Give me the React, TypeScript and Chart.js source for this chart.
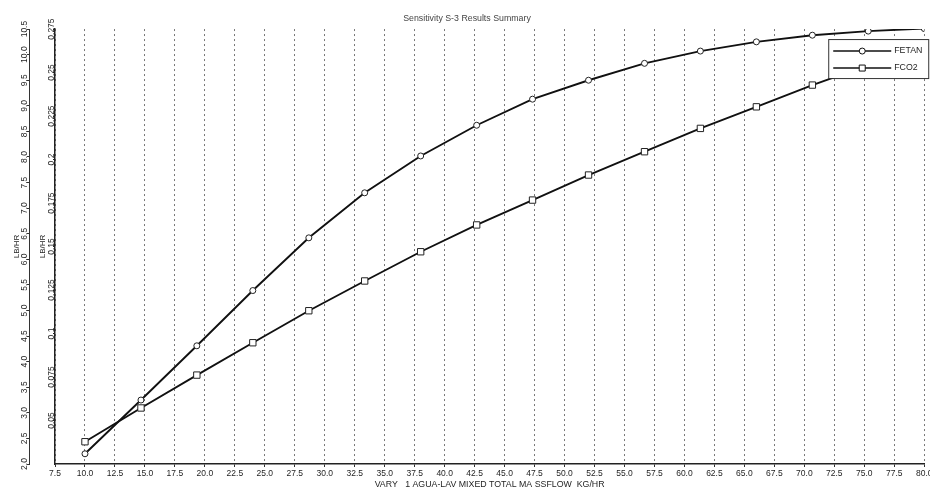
import React, { useEffect, useRef } from 'react';
import { Chart, registerables } from 'chart.js';

Chart.register(...registerables);

// ---- data ----
const flowKgHr = [10, 14.67, 19.33, 24, 28.67, 33.33, 38, 42.67, 47.33, 52, 56.67, 61.33, 66, 70.67, 75.33, 80];
const fetanLbHr = [2.2, 3.25, 4.31, 5.39, 6.42, 7.3, 8.02, 8.62, 9.13, 9.5, 9.83, 10.07, 10.25, 10.38, 10.46, 10.51];
const fco2LbHr = [0.0378, 0.0572, 0.0761, 0.0947, 0.1131, 0.1302, 0.147, 0.1624, 0.1767, 0.1911, 0.2045, 0.2179, 0.2303, 0.2428, 0.2543, 0.2652];

const xTicks = [7.5, 10, 12.5, 15, 17.5, 20, 22.5, 25, 27.5, 30, 32.5, 35, 37.5, 40, 42.5, 45, 47.5, 50, 52.5, 55, 57.5, 60, 62.5, 65, 67.5, 70, 72.5, 75, 77.5, 80];
const yOuterTicks = [2.0, 2.5, 3.0, 3.5, 4.0, 4.5, 5.0, 5.5, 6.0, 6.5, 7.0, 7.5, 8.0, 8.5, 9.0, 9.5, 10.0, 10.5];
const yInnerTicks = [0.05, 0.075, 0.1, 0.125, 0.15, 0.175, 0.2, 0.225, 0.25, 0.275];

const titleText = 'Sensitivity S-3 Results Summary';
const xTitle = 'VARY   1 AGUA-LAV MIXED TOTAL MA SSFLOW  KG/HR';
const yTitle = 'LB/HR';
const seriesNames = ['FETAN', 'FCO2'];

const FONT = '"Liberation Sans", Arial, sans-serif';
const TEXT = '#1e1e1e';

const boxLegend = {
  id: 'boxLegend',
  afterDatasetsDraw(chart: any) {
    const { ctx, chartArea } = chart;
    const x0 = chartArea.right - 96;
    const y0 = chartArea.top + 10;
    const w = 100;
    const h = 39;
    ctx.save();
    ctx.fillStyle = '#ffffff';
    ctx.fillRect(x0, y0, w, h);
    ctx.strokeStyle = '#333';
    ctx.lineWidth = 1;
    ctx.strokeRect(x0 + 0.5, y0 + 0.5, w, h);
    chart.data.datasets.forEach((ds: any, i: number) => {
      const y = y0 + 12 + i * 17;
      ctx.beginPath();
      ctx.moveTo(x0 + 5, y);
      ctx.lineTo(x0 + 63, y);
      ctx.strokeStyle = '#111';
      ctx.lineWidth = 1.5;
      ctx.stroke();
      const mx = x0 + 34;
      ctx.fillStyle = '#fff';
      ctx.lineWidth = 1;
      ctx.beginPath();
      if (ds.pointStyle === 'rect') {
        ctx.rect(mx - 3, y - 3, 6, 6);
      } else {
        ctx.arc(mx, y, 3, 0, Math.PI * 2);
      }
      ctx.fill();
      ctx.stroke();
      ctx.fillStyle = TEXT;
      ctx.font = `8.8px ${FONT}`;
      ctx.textBaseline = 'middle';
      ctx.textAlign = 'left';
      ctx.fillText(ds.label, x0 + 66, y);
    });
    ctx.restore();
  },
};

export default function App() {
  const ref = useRef<HTMLCanvasElement>(null);

  useEffect(() => {
    if (!ref.current) return;
    const tickFont = { family: FONT, size: 8.5 };
    const chart = new Chart(ref.current, {
      type: 'line',
      data: {
        datasets: [
          {
            label: seriesNames[0],
            data: flowKgHr.map((x, i) => ({ x, y: fetanLbHr[i] })),
            yAxisID: 'y',
            borderColor: '#111',
            borderWidth: 1.9,
            pointStyle: 'circle',
            pointRadius: 3,
            pointBackgroundColor: '#fff',
            pointBorderColor: '#222',
            pointBorderWidth: 1,
            tension: 0,
          },
          {
            label: seriesNames[1],
            data: flowKgHr.map((x, i) => ({ x, y: fco2LbHr[i] })),
            yAxisID: 'y1',
            borderColor: '#111',
            borderWidth: 1.9,
            pointStyle: 'rect',
            pointRadius: 4.5,
            pointBackgroundColor: '#fff',
            pointBorderColor: '#222',
            pointBorderWidth: 1,
            tension: 0,
          },
        ],
      },
      options: {
        animation: false,
        responsive: true,
        maintainAspectRatio: false,
        layout: { padding: 0 },
        plugins: {
          legend: { display: false },
          tooltip: { enabled: false },
          title: {
            display: true,
            text: titleText,
            color: '#444',
            font: { family: FONT, size: 8.8, weight: 'normal' },
            padding: { top: 13, bottom: 5.5 },
          },
        },
        scales: {
          x: {
            type: 'linear',
            min: 7.5,
            max: 80,
            afterBuildTicks: (s: any) => {
              s.ticks = xTicks.map((v) => ({ value: v }));
            },
            afterFit: (s: any) => {
              s.height = 29;
            },
            ticks: {
              autoSkip: false,
              maxRotation: 0,
              padding: 1.5,
              color: TEXT,
              font: tickFont,
              callback: (v: any) => Number(v).toFixed(1),
            },
            grid: {
              color: '#777',
              lineWidth: 1,
              drawTicks: true,
              tickLength: 3,
              tickColor: '#333',
            },
            border: { display: true, color: '#222', width: 1.5, dash: [2, 3] },
            title: {
              display: true,
              text: xTitle,
              color: TEXT,
              font: { family: FONT, size: 8.8 },
              padding: { top: 0, bottom: 3 },
            },
          },
          y: {
            type: 'linear',
            position: 'left',
            weight: 2,
            min: 2,
            max: 10.5,
            afterBuildTicks: (s: any) => {
              s.ticks = yOuterTicks.map((v) => ({ value: v }));
            },
            afterFit: (s: any) => {
              s.width = 29;
            },
            ticks: {
              autoSkip: false,
              minRotation: 90,
              maxRotation: 90,
              crossAlign: 'center',
              padding: -6.3,
              color: TEXT,
              font: tickFont,
              callback: (v: any) => Number(v).toFixed(1),
            },
            grid: { display: true, drawOnChartArea: false, drawTicks: true, tickLength: 2, color: '#333' },
            border: { display: true, color: '#333', width: 1 },
            title: {
              display: true,
              text: yTitle,
              color: TEXT,
              font: { family: FONT, size: 8 },
              padding: { top: 12, bottom: 0 },
            },
          },
          y1: {
            type: 'linear',
            position: 'left',
            weight: 1,
            min: 0.025,
            max: 0.275,
            afterBuildTicks: (s: any) => {
              s.ticks = yInnerTicks.map((v) => ({ value: v }));
            },
            afterFit: (s: any) => {
              s.width = 26;
            },
            ticks: {
              autoSkip: false,
              minRotation: 90,
              maxRotation: 90,
              crossAlign: 'center',
              padding: -9.3,
              color: TEXT,
              font: tickFont,
              callback: (v: any) => String(Number(Number(v).toFixed(3))),
            },
            grid: { display: true, drawOnChartArea: false, drawTicks: true, tickLength: 2, color: '#333' },
            border: { display: true, color: '#222', width: 1.5 },
            title: {
              display: true,
              text: yTitle,
              color: TEXT,
              font: { family: FONT, size: 8 },
              padding: { top: 9, bottom: 0 },
            },
          },
        },
      },
      plugins: [boxLegend],
    } as any);
    return () => chart.destroy();
  }, []);

  return (
    <div style={{ position: 'fixed', left: 0, top: 0, width: 930, height: 493, overflow: 'hidden', background: '#fff' }}>
      <div style={{ position: 'relative', width: 934, height: 493 }}>
        <canvas ref={ref} />
      </div>
    </div>
  );
}
